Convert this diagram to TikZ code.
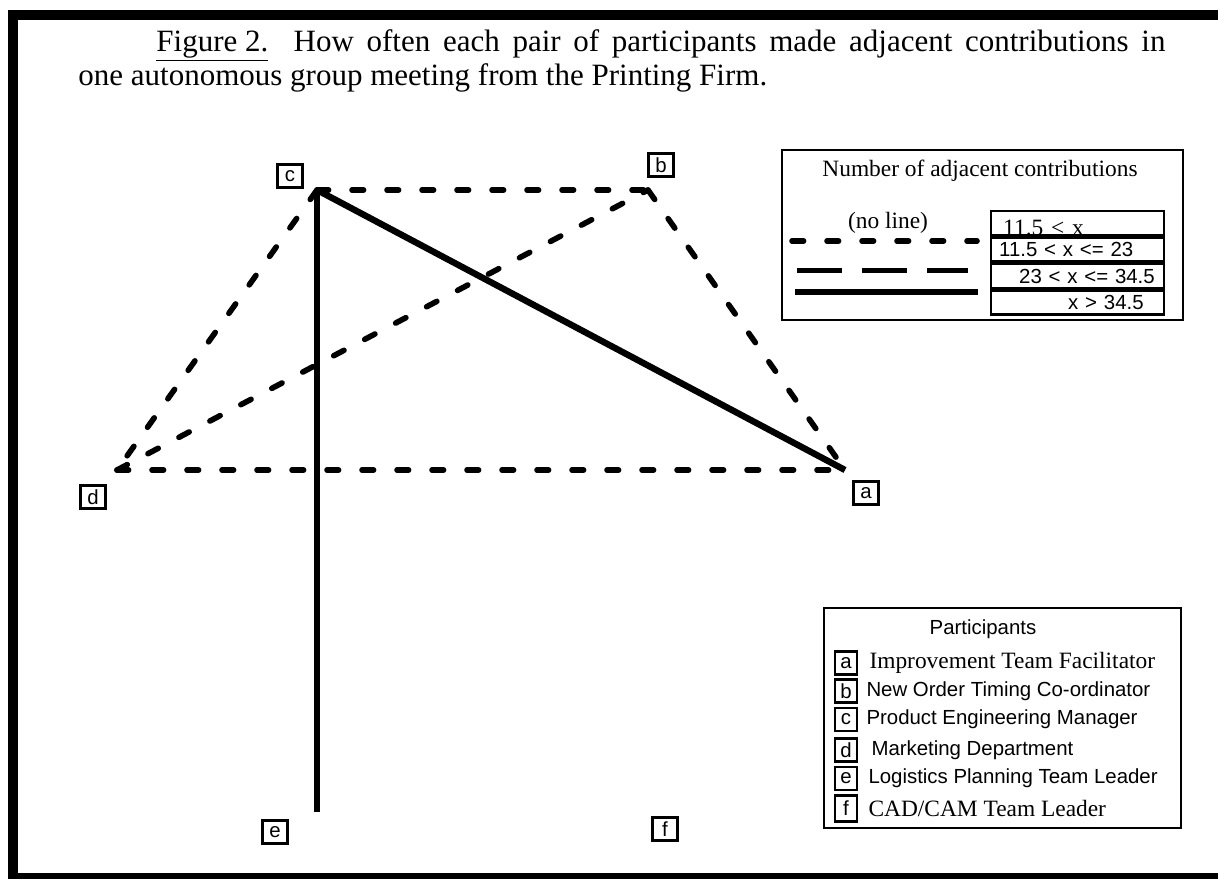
\documentclass[tikz,border=0pt]{standalone}
\usepackage{fontspec}
\setmainfont{Liberation Serif}
\setsansfont{Liberation Sans}
\usetikzlibrary{positioning}

\begin{document}
\begin{tikzpicture}[
    x=0.5pt, y=-0.5pt,
    tag/.style={draw, line width=1.1pt, inner sep=0pt, minimum width=12.5pt, minimum height=11.5pt, font=\sffamily\fontsize{10.2}{12}\selectfont},
    weak/.style={line width=2.8pt, line cap=round, dash pattern=on 5.8pt off 11.7pt},
    medium/.style={line width=2.5pt, dash pattern=on 22.5pt off 10pt},
    strong/.style={line width=3.2pt},
    legend/.style={draw, line width=1.3pt},
    bandbox/.style={draw, line width=1.2pt, inner sep=0pt, minimum height=12pt, text width=86.5pt, align=left, font=\sffamily\fontsize{10.2}{12}\selectfont},
    serifnote/.style={inner sep=0pt, font=\rmfamily\fontsize{11.7}{13}\selectfont},
    sansnote/.style={inner sep=0pt, font=\sffamily\fontsize{10.2}{12}\selectfont}
]
\useasboundingbox (0,0) rectangle (1218,878);
\clip (0,0) rectangle (1218,878);
\fill[white] (0,0) rectangle (1218,878);
\draw[line width=5pt] (1230,15) -- (13,15) -- (13,878) -- (1230,878);

% caption
\node[anchor=north west, inner sep=0pt, text width=543.5pt, align=justify,
      font=\rmfamily\fontsize{15.5}{15}\selectfont] (caption) at (78,29)
  {\hspace*{39pt}\underline{Figure 2.}\ \ How often each pair of participants made adjacent contributions in\linebreak
   one autonomous group meeting from the Printing Firm.};

% participants
\node[tag] (c) at (290,176) {c};
\node[tag] (b) at (661,165) {b};
\node[tag] (a) at (866,493) {a};
\node[tag] (d) at (93,497) {d};
\node[tag] (e) at (275,832) {e};
\node[tag] (f) at (665,829) {f};

\coordinate (pc) at (317,190);
\coordinate (pb) at (648,190);
\coordinate (pa) at (845,470);
\coordinate (pd) at (117,470);
\coordinate (pe) at (317,812);

\draw[weak] (pc) -- (pb);
\draw[weak] (pc) -- (pd);
\draw[weak] (pb) -- (pa);
\draw[weak] (pd) -- (pb);
\draw[weak] (pd) -- (pa);
\draw[strong] (pc) -- (pa);
\draw[strong] (pc) -- (pe);

% line legend
\draw[legend] (782,150) rectangle (1183,320);
\node[serifnote, anchor=base] (numhead) at (980,176) {Number of adjacent contributions};
\node[serifnote, anchor=base] (noline) at (888,228) {(no line)};
\draw[weak] (792,241) -- (977,241);
\draw[medium] (797,270) -- (968,270);
\draw[strong] (795,292) -- (978,292);
\node[bandbox, anchor=north west, text height=12pt, text depth=0pt, font=\rmfamily\fontsize{11.7}{13}\selectfont] (r1) at (990,210) {\hspace*{6pt}11.5 \textless{} x};
\node[bandbox, below=0pt of r1] (r2) {\hspace*{4pt}11.5 < x <= 23};
\node[bandbox, below=0pt of r2] (r3) {\hspace*{14pt}23 < x <= 34.5};
\node[bandbox, below=0pt of r3] (r4) {\hspace*{38.5pt}x > 34.5};

% participant legend
\draw[legend] (824,608) rectangle (1181,828);
\node[sansnote, anchor=base] (phead) at (983,634) {Participants};
\node[tag, minimum width=11pt] (ka) at (846,663) {a};
\node[tag, minimum width=11pt] (kb) at (846,691) {b};
\node[tag, minimum width=11pt] (kc) at (846,719.5) {c};
\node[tag, minimum width=11pt] (kd) at (846,750) {d};
\node[tag, minimum width=11pt] (ke) at (846,778.5) {e};
\node[tag, minimum width=11pt, minimum height=13pt] (kf) at (846,808.5) {f};
\node[serifnote, right=5.5pt of ka] (ta) {Improvement Team Facilitator};
\node[sansnote, right=4pt of kb] (tb) {New Order Timing Co-ordinator};
\node[sansnote, right=4pt of kc] (tc) {Product Engineering Manager};
\node[sansnote, right=6.5pt of kd] (td) {Marketing Department};
\node[sansnote, right=5pt of ke] (te) {Logistics Planning Team Leader};
\node[serifnote, right=5pt of kf] (tf) {CAD/CAM Team Leader};
\end{tikzpicture}
\end{document}
